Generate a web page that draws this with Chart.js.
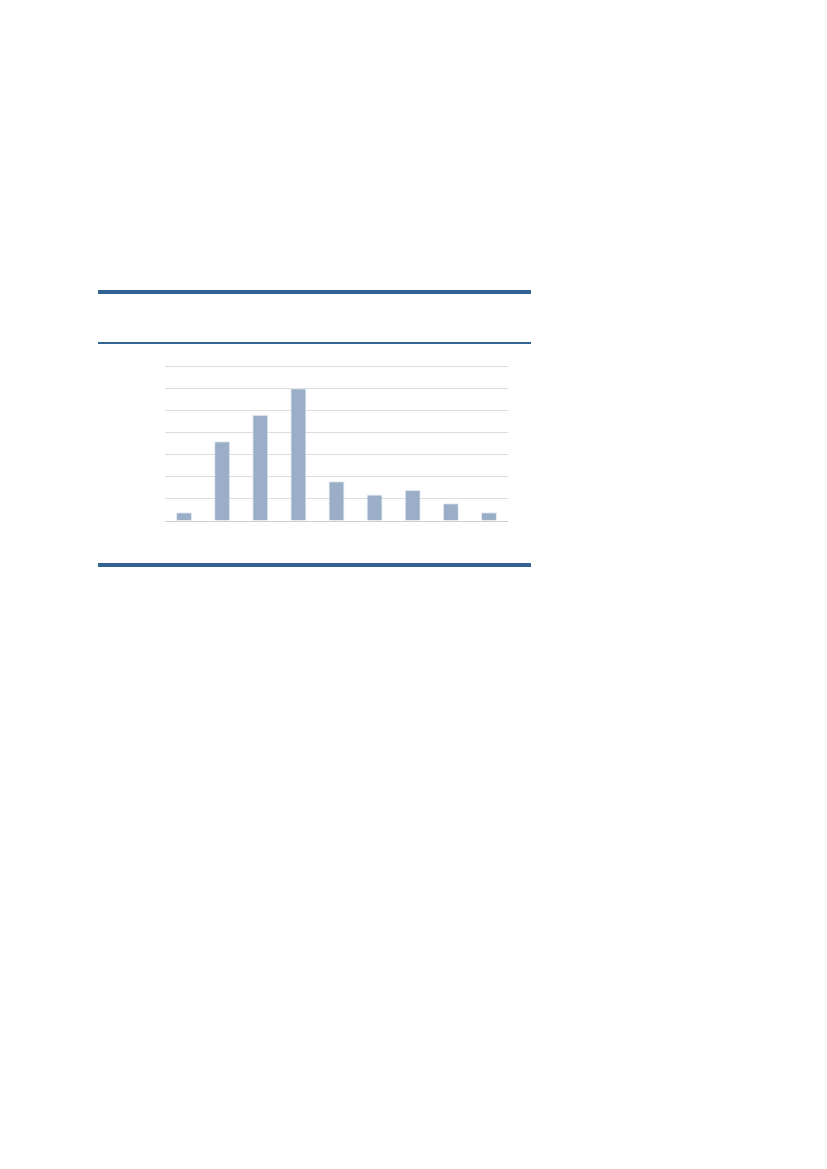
<!DOCTYPE html>
<html>
<head>
<meta charset="utf-8">
<script src="https://cdn.jsdelivr.net/npm/chart.js@4"></script>
<style>
  body { margin: 0; background: #fff; width: 827px; height: 1169px; position: relative; font-family: "Liberation Sans", Arial, sans-serif; }
  .rule { position: absolute; left: 98px; width: 433px; background: #336393; }
  #wrap { position: absolute; left: 155px; top: 356px; width: 363px; height: 183px; }
</style>
</head>
<body>
<div class="rule" style="top:290px;height:4px"></div>
<div class="rule" style="top:342px;height:2px"></div>
<div class="rule" style="top:563px;height:4px"></div>
<div id="wrap"><canvas id="barChart"></canvas></div>
<script>
// categories have no visible labels in the source, so just number them
const categories = ['1', '2', '3', '4', '5', '6', '7', '8', '9'];
const values = [2, 18, 24, 30, 9, 6, 7, 4, 2];
const yMax = 35;
const yStep = 5;

const ctx = document.getElementById('barChart').getContext('2d');

new Chart(ctx, {
    type: 'bar',
    data: {
        labels: categories,
        datasets: [{
            data: values,
            backgroundColor: '#9aaec7',
            borderColor: 'rgba(225, 232, 241, 0.9)',
            borderWidth: 1,
            categoryPercentage: 1,
            barPercentage: 0.42
        }]
    },
    options: {
        responsive: true,
        maintainAspectRatio: false,
        animation: false,
        layout: { padding: { left: 10, right: 10, top: 10, bottom: 10 } },
        plugins: {
            legend: { display: false },
            tooltip: { enabled: false }
        },
        scales: {
            x: {
                grid: { display: false },
                border: { display: false },
                ticks: { display: false }
            },
            y: {
                min: 0,
                max: yMax,
                ticks: { display: false, stepSize: yStep },
                border: { display: false },
                grid: {
                    color: (c) => c.tick && c.tick.value === 0 ? '#cfcfcf' : '#dddddd',
                    lineWidth: 1,
                    drawTicks: false
                }
            }
        }
    }
});
</script>
</body>
</html>
